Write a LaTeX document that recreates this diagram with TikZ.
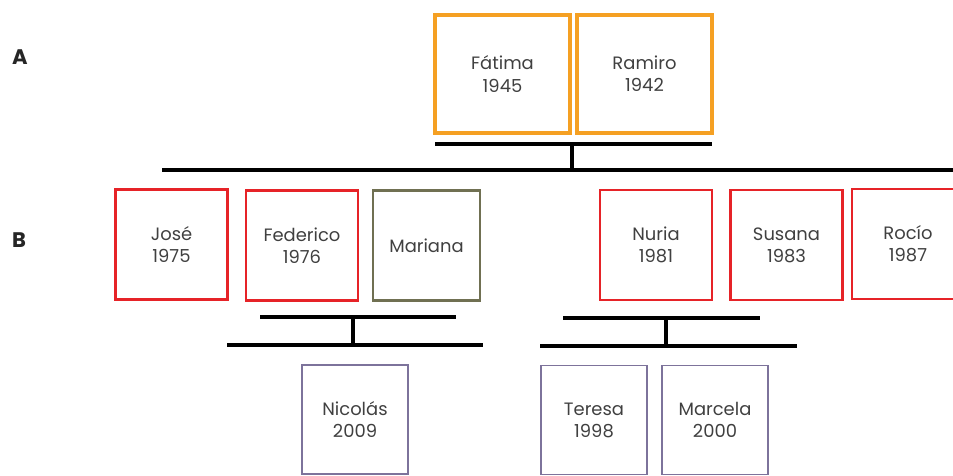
\documentclass[tikz,border=0pt]{standalone}
\usepackage{fontspec}
\setmainfont{Poppins}
\usepackage{xcolor}
\definecolor{parentorange}{RGB}{245, 160, 35}
\definecolor{childred}{RGB}{230, 35, 40}
\definecolor{inlawolive}{RGB}{112, 112, 82}
\definecolor{grandpurple}{RGB}{125, 115, 155}
\usetikzlibrary{positioning, calc}

\begin{document}
\begin{tikzpicture}[
    x=0.02cm, y=-0.02cm,
    person/.style={draw, line width=1.3pt, fill=white, align=center, font=\fontsize{10.2}{12.6}\selectfont, text=black!75, inner sep=2pt},
    elder/.style={person, draw=parentorange, line width=1.8pt, minimum width=2.7cm, minimum height=2.36cm},
    child/.style={person, draw=childred, minimum width=2.24cm, minimum height=2.2cm},
    inlaw/.style={person, draw=inlawolive, minimum width=2.14cm, minimum height=2.2cm},
    grandchild/.style={person, draw=grandpurple, line width=1.1pt, minimum width=2.12cm, minimum height=2.18cm},
    bar/.style={draw=black, line width=2.8pt},
    genlabel/.style={font=\bfseries\large, text=black!85}
]
\useasboundingbox (0,0) rectangle (953,476);

% ==================== GENERATION LABELS ====================
\node[genlabel] (genA) at (20,57) {A};
\node[genlabel] (genB) at (19,240) {B};

% ==================== GENERATION A ====================
\node[elder] (fatima) at (502.5,74) {Fátima\\1945};
\node[elder] (ramiro) at (644.5,74) {Ramiro\\1942};

\coordinate (coupleA_l) at (435,144);
\coordinate (coupleA_r) at (712,144);
\coordinate (coupleA_m) at (572,144);
\coordinate (sibsB_m) at (572,170);
\coordinate (sibsB_l) at (162,170);
\coordinate (sibsB_r) at (953,170);
\draw[bar] (coupleA_l) -- (coupleA_r);
\draw[bar] (coupleA_m) -- (sibsB_m);
\draw[bar] (sibsB_l) -- (sibsB_r);

% ==================== GENERATION B ====================
\node[child] (jose) at (171.5,244.5) {José\\1975};
\node[child] (federico) at (302,245.5) {Federico\\1976};
\node[inlaw] (mariana) at (426.5,245.5) {Mariana};
\node[child] (nuria) at (656,245) {Nuria\\1981};
\node[child] (susana) at (786.5,245) {Susana\\1983};
\node[child] (rocio) at (908,244) {Rocío\\1987};

% federico + mariana
\coordinate (coupleF_l) at (260,317);
\coordinate (coupleF_r) at (456,317);
\coordinate (coupleF_m) at (353,317);
\coordinate (sibsF_m) at (353,345);
\coordinate (sibsF_l) at (227,345);
\coordinate (sibsF_r) at (483,345);
\draw[bar] (coupleF_l) -- (coupleF_r);
\draw[bar] (coupleF_m) -- (sibsF_m);
\draw[bar] (sibsF_l) -- (sibsF_r);

% nuria
\coordinate (coupleN_l) at (563,318);
\coordinate (coupleN_r) at (760,318);
\coordinate (coupleN_m) at (666,318);
\coordinate (sibsN_m) at (666,346);
\coordinate (sibsN_l) at (540,346);
\coordinate (sibsN_r) at (797,346);
\draw[bar] (coupleN_l) -- (coupleN_r);
\draw[bar] (coupleN_m) -- (sibsN_m);
\draw[bar] (sibsN_l) -- (sibsN_r);

% ==================== GENERATION C ====================
\node[grandchild] (nicolas) at (355,419.5) {Nicolás\\2009};
\node[grandchild] (teresa) at (594,420) {Teresa\\1998};
\node[grandchild] (marcela) at (715,420) {Marcela\\2000};

\end{tikzpicture}
\end{document}
